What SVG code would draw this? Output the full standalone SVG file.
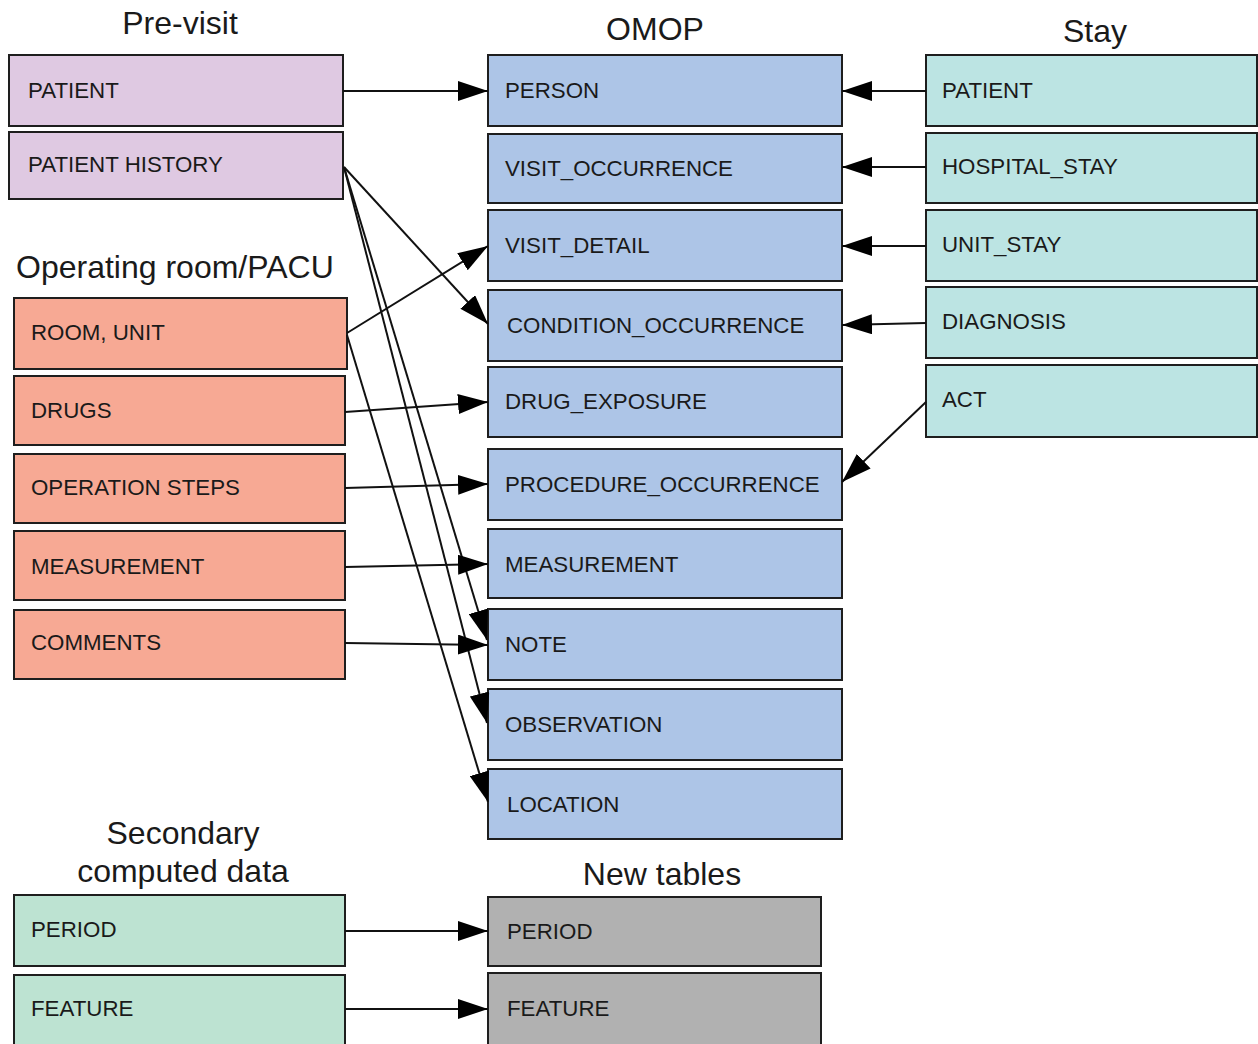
<svg xmlns="http://www.w3.org/2000/svg" width="1258" height="1044" viewBox="0 0 1258 1044">
<defs>
<style>
.box{stroke:#1e1e1e;stroke-width:2}
.pre{fill:#dfc9e2}
.or{fill:#f7a994}
.om{fill:#adc5e7}
.st{fill:#bce4e3}
.sec{fill:#bde3d2}
.nw{fill:#b1b1b1}
.lbl{font-family:"Liberation Sans",Arial,sans-serif;font-size:22.3px;fill:#1a1a1a}
.ttl{font-family:"Liberation Sans",Arial,sans-serif;font-size:32px;fill:#1a1a1a}
.c{stroke:#111;stroke-width:2;fill:none;marker-end:url(#ah)}
</style>
<marker id="ah" markerUnits="userSpaceOnUse" markerWidth="30" markerHeight="20" refX="30" refY="10" orient="auto" viewBox="0 0 30 20">
<path d="M0,0 L30,10 L0,20 z" fill="#000"/>
</marker>
</defs>
<rect width="1258" height="1044" fill="#fff"/>

<g id="titles">
<text class="ttl" x="180" y="34" text-anchor="middle">Pre-visit</text>
<text class="ttl" x="655" y="40" text-anchor="middle">OMOP</text>
<text class="ttl" x="1095" y="42" text-anchor="middle">Stay</text>
<text class="ttl" x="16" y="278">Operating room/PACU</text>
<text class="ttl" x="183" y="844" text-anchor="middle">Secondary</text>
<text class="ttl" x="183" y="882" text-anchor="middle">computed data</text>
<text class="ttl" x="662" y="885" text-anchor="middle">New tables</text>
</g>

<g id="pre-patient"><rect class="box pre" x="9" y="55" width="334" height="71"/><text class="lbl" x="28" y="98">PATIENT</text></g>
<g id="pre-history"><rect class="box pre" x="9" y="132" width="334" height="67"/><text class="lbl" x="28" y="172">PATIENT HISTORY</text></g>

<g id="or-room"><rect class="box or" x="14" y="298" width="333" height="71"/><text class="lbl" x="31" y="340">ROOM, UNIT</text></g>
<g id="or-drugs"><rect class="box or" x="14" y="376" width="331" height="69"/><text class="lbl" x="31" y="418">DRUGS</text></g>
<g id="or-steps"><rect class="box or" x="14" y="454" width="331" height="69"/><text class="lbl" x="31" y="495">OPERATION STEPS</text></g>
<g id="or-meas"><rect class="box or" x="14" y="531" width="331" height="69"/><text class="lbl" x="31" y="574">MEASUREMENT</text></g>
<g id="or-comments"><rect class="box or" x="14" y="610" width="331" height="69"/><text class="lbl" x="31" y="650">COMMENTS</text></g>

<g id="om-person"><rect class="box om" x="488" y="55" width="354" height="71"/><text class="lbl" x="505" y="98">PERSON</text></g>
<g id="om-visit-occ"><rect class="box om" x="488" y="134" width="354" height="69"/><text class="lbl" x="505" y="176">VISIT_OCCURRENCE</text></g>
<g id="om-visit-det"><rect class="box om" x="488" y="210" width="354" height="71"/><text class="lbl" x="505" y="253">VISIT_DETAIL</text></g>
<g id="om-condition"><rect class="box om" x="488" y="290" width="354" height="71"/><text class="lbl" x="507" y="333">CONDITION_OCCURRENCE</text></g>
<g id="om-drug"><rect class="box om" x="488" y="367" width="354" height="70"/><text class="lbl" x="505" y="409">DRUG_EXPOSURE</text></g>
<g id="om-procedure"><rect class="box om" x="488" y="449" width="354" height="71"/><text class="lbl" x="505" y="492">PROCEDURE_OCCURRENCE</text></g>
<g id="om-meas"><rect class="box om" x="488" y="529" width="354" height="69"/><text class="lbl" x="505" y="572">MEASUREMENT</text></g>
<g id="om-note"><rect class="box om" x="488" y="609" width="354" height="71"/><text class="lbl" x="505" y="652">NOTE</text></g>
<g id="om-observation"><rect class="box om" x="488" y="689" width="354" height="71"/><text class="lbl" x="505" y="732">OBSERVATION</text></g>
<g id="om-location"><rect class="box om" x="488" y="769" width="354" height="70"/><text class="lbl" x="507" y="812">LOCATION</text></g>

<g id="st-patient"><rect class="box st" x="926" y="55" width="331" height="71"/><text class="lbl" x="942" y="98">PATIENT</text></g>
<g id="st-hospital"><rect class="box st" x="926" y="133" width="331" height="70"/><text class="lbl" x="942" y="174">HOSPITAL_STAY</text></g>
<g id="st-unit"><rect class="box st" x="926" y="210" width="331" height="71"/><text class="lbl" x="942" y="252">UNIT_STAY</text></g>
<g id="st-diagnosis"><rect class="box st" x="926" y="287" width="331" height="71"/><text class="lbl" x="942" y="329">DIAGNOSIS</text></g>
<g id="st-act"><rect class="box st" x="926" y="365" width="331" height="72"/><text class="lbl" x="942" y="407">ACT</text></g>

<g id="sec-period"><rect class="box sec" x="14" y="895" width="331" height="71"/><text class="lbl" x="31" y="937">PERIOD</text></g>
<g id="sec-feature"><rect class="box sec" x="14" y="975" width="331" height="75"/><text class="lbl" x="31" y="1016">FEATURE</text></g>
<g id="new-period"><rect class="box nw" x="488" y="897" width="333" height="69"/><text class="lbl" x="507" y="939">PERIOD</text></g>
<g id="new-feature"><rect class="box nw" x="488" y="973" width="333" height="77"/><text class="lbl" x="507" y="1016">FEATURE</text></g>

<g id="connectors">
<path class="c" d="M343,91 L488,91"/>
<path class="c" d="M344,167 L488,324"/>
<path class="c" d="M344,167 L487,640"/>
<path class="c" d="M344,167 L487,723"/>
<path class="c" d="M347,333 L488,246"/>
<path class="c" d="M347,335 L488,802"/>
<path class="c" d="M345,412 L488,402"/>
<path class="c" d="M345,488 L488,484"/>
<path class="c" d="M345,567 L488,564"/>
<path class="c" d="M345,643 L488,645"/>
<path class="c" d="M926,91 L842,91"/>
<path class="c" d="M926,167 L842,167"/>
<path class="c" d="M926,246 L842,246"/>
<path class="c" d="M926,323 L842,325"/>
<path class="c" d="M926,402 L842,482"/>
<path class="c" d="M345,931 L488,931"/>
<path class="c" d="M345,1009 L488,1009"/>
</g>
</svg>
